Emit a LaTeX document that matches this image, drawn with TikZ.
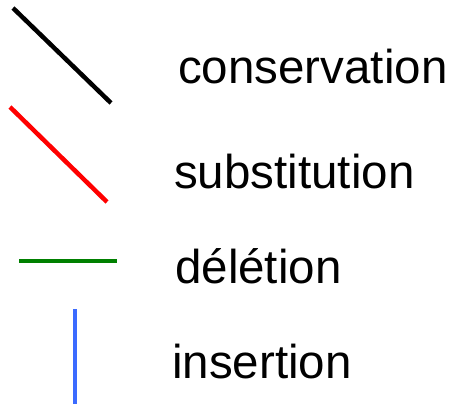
\documentclass[tikz,border=0pt]{standalone}
\usepackage{fontspec}
\setmainfont{Liberation Sans}
\definecolor{subred}{RGB}{255,0,0}
\definecolor{delgreen}{RGB}{0,128,0}
\definecolor{insblue}{RGB}{59,107,255}

\begin{document}
\begin{tikzpicture}[x=1pt, y=-1pt,
  lbl/.style={anchor=base west, inner sep=0pt, font=\fontsize{47.5}{52}\selectfont},
  swatch/.style={line width=4.5pt}]

  \useasboundingbox (0,0) rectangle (454,406);

  % End points of the legend strokes
  \coordinate (consA) at (13,8);
  \coordinate (consB) at (111,103);
  \coordinate (subA) at (10,107);
  \coordinate (subB) at (107,202);
  \coordinate (delA) at (19,261);
  \coordinate (delB) at (117,261);
  \coordinate (insA) at (75,309);
  \coordinate (insB) at (75,404);

  % Strokes
  \draw[swatch, black] (consA) -- (consB);
  \draw[swatch, subred] (subA) -- (subB);
  \draw[swatch, delgreen] (delA) -- (delB);
  \draw[swatch, insblue] (insA) -- (insB);

  % Labels
  \node[lbl] (cons) at (178,84) {conservation};
  \node[lbl] (subst) at (174,188) {substitution};
  \node[lbl] (del) at (175,283) {délétion};
  \node[lbl] (ins) at (172,378) {insertion};

\end{tikzpicture}
\end{document}
